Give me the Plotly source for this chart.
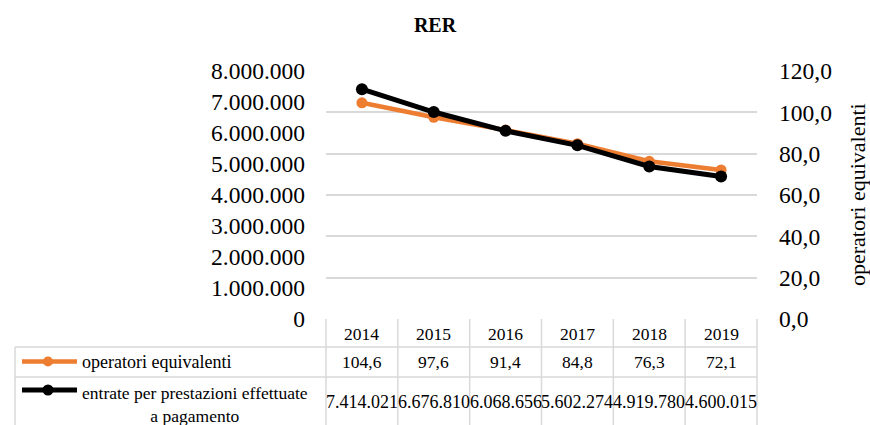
import plotly.graph_objects as go

# Data
years = ["2014", "2015", "2016", "2017", "2018", "2019"]
operatori = [104.6, 97.6, 91.4, 84.8, 76.3, 72.1]
entrate = [7414021, 6676810, 6068656, 5602274, 4919780, 4600015]
name_operatori = "operatori equivalenti"
name_entrate_lines = ["entrate per prestazioni effettuate", "a pagamento"]

ORANGE = "#ED7D31"
BLACK = "#000000"
GRID = "#d9d9d9"
FONT = "Liberation Serif"

# Canvas / plot-area geometry (pixels)
W_PX, H_PX = 870, 425
L, R, T, B = 326, 757, 71, 319


def px(xp):
    return (xp - L) / (R - L)


def py(yp):
    return (B - yp) / (B - T)


fig = go.Figure()

# operatori equivalenti -> right axis (0..120)
fig.add_trace(go.Scatter(
    x=years, y=operatori, name=name_operatori, yaxis="y",
    mode="lines+markers", line=dict(color=ORANGE, width=4.5),
    marker=dict(color=ORANGE, size=11), showlegend=False,
))
# entrate -> left axis (0..8.000.000), drawn on top
fig.add_trace(go.Scatter(
    x=years, y=entrate, name=" ".join(name_entrate_lines), yaxis="y2",
    mode="lines+markers", line=dict(color=BLACK, width=5),
    marker=dict(color=BLACK, size=12), showlegend=False,
))

shapes = []
annotations = []

def hline(yp, x0p, x1p):
    shapes.append(dict(type="line", xref="paper", yref="paper",
                       x0=px(x0p), x1=px(x1p), y0=py(yp), y1=py(yp),
                       line=dict(color=GRID, width=1.5), layer="below"))

def vline(xp, y0p, y1p):
    shapes.append(dict(type="line", xref="paper", yref="paper",
                       x0=px(xp), x1=px(xp), y0=py(y0p), y1=py(y1p),
                       line=dict(color=GRID, width=1.5), layer="below"))

# Data table grid
hline(347, 15, R)
hline(377, 15, R)
vline(15, 347, 440)
ncol = len(years)
col_w = (R - L) / ncol
for k in range(ncol + 1):
    vline(L + k * col_w, B, 440)

TABLE_FS = 17.5

def text(xfrac, yp, s, size=TABLE_FS, xanchor="center", align="center"):
    annotations.append(dict(
        x=xfrac, y=py(yp), xref="paper", yref="paper", text=s, showarrow=False,
        xanchor=xanchor, yanchor="middle", align=align,
        font=dict(family=FONT, size=size, color="#000"),
    ))

for i, yr in enumerate(years):
    cx = px(L + (i + 0.5) * col_w)
    text(cx, 334, yr)
    text(cx, 362, f"{operatori[i]:.1f}".replace(".", ","))
    text(cx, 402, f"{entrate[i]:,}".replace(",", "."), size=18)

# Legend keys inside the table
def key(yp, color, lw, ms):
    shapes.append(dict(type="line", xref="paper", yref="paper",
                       x0=px(22), x1=px(77), y0=py(yp), y1=py(yp),
                       line=dict(color=color, width=lw)))
    r = ms / 2
    shapes.append(dict(type="circle", xref="paper", yref="paper",
                       x0=px(48 - r), x1=px(48 + r), y0=py(yp + r), y1=py(yp - r),
                       fillcolor=color, line=dict(color=color, width=0)))

key(361.5, ORANGE, 4.5, 10)
key(390, BLACK, 5, 11)
text(px(80), 362, name_operatori, size=18, xanchor="left")
text(px(80), 404, "<br>".join(name_entrate_lines), size=17.5, xanchor="left", align="center")

# Right axis title
annotations.append(dict(
    x=px(857), y=0.5, xref="paper", yref="paper", text=name_operatori,
    textangle=-90, showarrow=False, xanchor="center", yanchor="middle",
    font=dict(family=FONT, size=22, color="#000"),
))

fig.update_layout(
    width=W_PX, height=H_PX,
    margin=dict(l=L, r=W_PX - R, t=T, b=H_PX - B, pad=0),
    paper_bgcolor="white", plot_bgcolor="white",
    separators=",.",
    font=dict(family=FONT, color="#000"),
    title=dict(text="RER", x=0.5, xref="container", xanchor="center",
               y=1 - 24.5 / H_PX, yref="container", yanchor="middle",
               font=dict(family=FONT, size=20, color="#000", weight="bold")),
    xaxis=dict(type="category", range=[-0.5, ncol - 0.5], showticklabels=False,
               showgrid=False, zeroline=False, showline=False, ticks=""),
    yaxis=dict(side="right", range=[0, 120], dtick=20, tickformat=".1f",
               showgrid=True, gridcolor=GRID, gridwidth=1.5, zeroline=False,
               showline=False, ticks="", ticklabelstandoff=21,
               tickfont=dict(family=FONT, size=23.5, color="#000")),
    yaxis2=dict(side="left", overlaying="y", range=[0, 8000000], dtick=1000000,
                tickformat=",.0f", showgrid=False, zeroline=False, showline=False,
                ticks="", ticklabelstandoff=20,
                tickfont=dict(family=FONT, size=23.5, color="#000")),
    shapes=shapes,
    annotations=annotations,
    hovermode=False,
)

fig.write_html("out.html")
